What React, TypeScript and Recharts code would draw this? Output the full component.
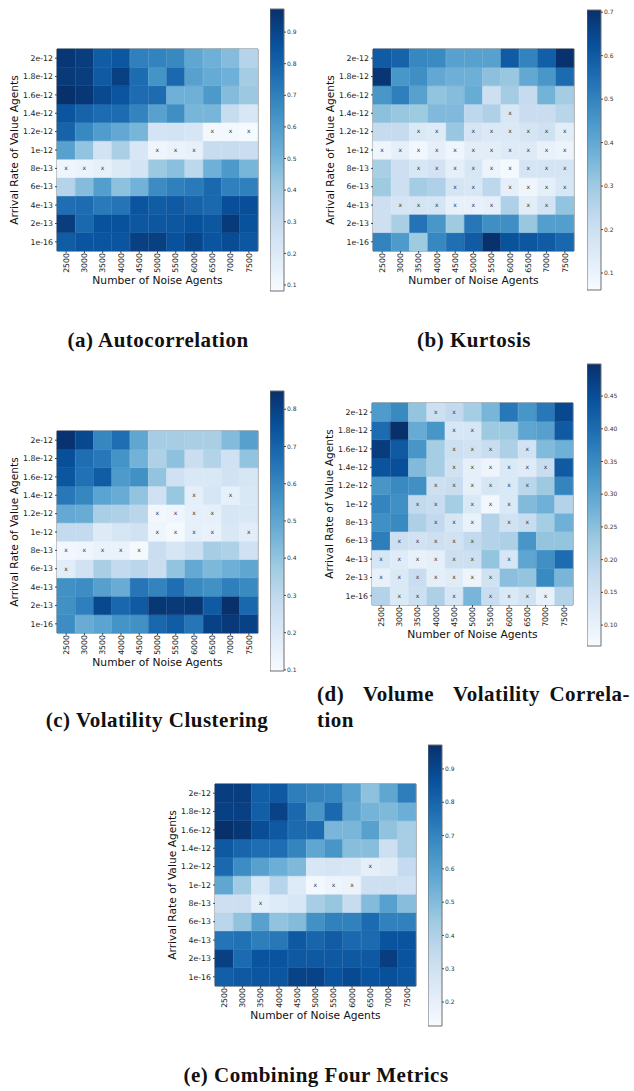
import React from 'react'
import { BarChart, Bar, XAxis, YAxis, Cell, LabelList, ReferenceArea } from 'recharts'

const noiseAgents = ['2500', '3000', '3500', '4000', '4500', '5000', '5500', '6000', '6500', '7000', '7500']
// top row first, like the picture
const arrivalRates = ['2e-12', '1.8e-12', '1.6e-12', '1.4e-12', '1.2e-12', '1e-12', '8e-13', '6e-13', '4e-13', '2e-13', '1e-16']

const autocorrelation = [
  [0.95, 0.93, 0.82, 0.84, 0.70, 0.69, 0.67, 0.56, 0.52, 0.47, 0.35],
  [0.94, 0.93, 0.83, 0.92, 0.77, 0.63, 0.78, 0.58, 0.54, 0.52, 0.40],
  [0.97, 0.95, 0.89, 0.85, 0.77, 0.77, 0.52, 0.52, 0.61, 0.47, 0.42],
  [0.85, 0.80, 0.77, 0.77, 0.69, 0.58, 0.65, 0.50, 0.50, 0.30, 0.22],
  [0.80, 0.67, 0.60, 0.55, 0.50, 0.24, 0.25, 0.23, 0.10, 0.10, 0.09],
  [0.58, 0.44, 0.25, 0.38, 0.22, 0.12, 0.14, 0.15, 0.30, 0.30, 0.28],
  [0.12, 0.14, 0.16, 0.20, 0.24, 0.42, 0.46, 0.33, 0.52, 0.61, 0.50],
  [0.35, 0.47, 0.59, 0.45, 0.51, 0.66, 0.70, 0.72, 0.78, 0.70, 0.70],
  [0.76, 0.77, 0.72, 0.74, 0.85, 0.82, 0.83, 0.80, 0.78, 0.87, 0.87],
  [0.93, 0.78, 0.86, 0.86, 0.84, 0.84, 0.84, 0.86, 0.84, 0.94, 0.86],
  [0.82, 0.85, 0.85, 0.85, 0.92, 0.92, 0.86, 0.90, 0.85, 0.88, 0.84],
]
const autocorrelationMarks = [
  '...........', '...........', '...........', '...........', '........xxx', '.....xxx...',
  'xxx........', '...........', '...........', '...........', '...........',
]

const kurtosis = [
  [0.60, 0.58, 0.49, 0.48, 0.42, 0.42, 0.42, 0.60, 0.50, 0.59, 0.70],
  [0.69, 0.45, 0.47, 0.40, 0.38, 0.38, 0.33, 0.31, 0.40, 0.45, 0.56],
  [0.45, 0.51, 0.42, 0.32, 0.34, 0.39, 0.20, 0.29, 0.22, 0.37, 0.29],
  [0.33, 0.31, 0.30, 0.35, 0.35, 0.24, 0.27, 0.16, 0.21, 0.21, 0.25],
  [0.22, 0.22, 0.15, 0.14, 0.31, 0.17, 0.15, 0.15, 0.17, 0.19, 0.13],
  [0.09, 0.12, 0.08, 0.12, 0.09, 0.13, 0.13, 0.14, 0.14, 0.11, 0.10],
  [0.28, 0.20, 0.16, 0.18, 0.12, 0.16, 0.10, 0.07, 0.17, 0.17, 0.17],
  [0.30, 0.20, 0.29, 0.27, 0.17, 0.16, 0.24, 0.12, 0.09, 0.12, 0.16],
  [0.20, 0.17, 0.17, 0.17, 0.11, 0.11, 0.12, 0.27, 0.13, 0.18, 0.32],
  [0.20, 0.28, 0.54, 0.45, 0.30, 0.53, 0.47, 0.47, 0.31, 0.43, 0.43],
  [0.50, 0.44, 0.30, 0.49, 0.55, 0.60, 0.70, 0.62, 0.61, 0.60, 0.57],
]
const kurtosisMarks = [
  '...........', '...........', '...........', '.......x...', '..xx.xxxxxx', 'xxxxxxxxxxx',
  '..xxxxxxxxx', '....xx.xxxx', '.xxxxxx.xx.', '...........', '...........',
]

const volClustering = [
  [0.84, 0.78, 0.60, 0.67, 0.50, 0.36, 0.36, 0.35, 0.35, 0.43, 0.52],
  [0.76, 0.67, 0.64, 0.56, 0.46, 0.34, 0.41, 0.27, 0.33, 0.25, 0.40],
  [0.74, 0.66, 0.72, 0.54, 0.57, 0.40, 0.25, 0.21, 0.21, 0.24, 0.22],
  [0.64, 0.60, 0.51, 0.48, 0.40, 0.25, 0.39, 0.17, 0.22, 0.16, 0.21],
  [0.49, 0.48, 0.35, 0.34, 0.31, 0.12, 0.13, 0.16, 0.16, 0.22, 0.21],
  [0.29, 0.29, 0.19, 0.22, 0.24, 0.13, 0.11, 0.16, 0.15, 0.21, 0.18],
  [0.12, 0.13, 0.15, 0.15, 0.11, 0.27, 0.22, 0.26, 0.36, 0.34, 0.25],
  [0.18, 0.24, 0.35, 0.29, 0.31, 0.27, 0.40, 0.49, 0.44, 0.47, 0.50],
  [0.57, 0.58, 0.52, 0.48, 0.65, 0.61, 0.67, 0.59, 0.57, 0.62, 0.59],
  [0.57, 0.62, 0.78, 0.69, 0.73, 0.83, 0.82, 0.83, 0.73, 0.85, 0.69],
  [0.58, 0.48, 0.51, 0.56, 0.57, 0.69, 0.72, 0.65, 0.80, 0.82, 0.80],
]
const volClusteringMarks = [
  '...........', '...........', '...........', '.......x.x.', '.....xxxx..', '.....xxxx.x',
  'xxxxx......', 'x..........', '...........', '...........', '...........',
]

const volumeVolCorr = [
  [0.32, 0.35, 0.24, 0.16, 0.18, 0.22, 0.27, 0.38, 0.33, 0.38, 0.46],
  [0.40, 0.50, 0.29, 0.33, 0.14, 0.14, 0.23, 0.23, 0.30, 0.31, 0.43],
  [0.48, 0.43, 0.33, 0.22, 0.16, 0.15, 0.17, 0.21, 0.15, 0.26, 0.28],
  [0.44, 0.45, 0.26, 0.22, 0.15, 0.11, 0.09, 0.13, 0.12, 0.17, 0.43],
  [0.33, 0.35, 0.34, 0.16, 0.17, 0.11, 0.14, 0.13, 0.19, 0.23, 0.36],
  [0.36, 0.34, 0.18, 0.17, 0.22, 0.13, 0.08, 0.13, 0.26, 0.28, 0.20],
  [0.34, 0.35, 0.21, 0.18, 0.14, 0.10, 0.20, 0.15, 0.17, 0.22, 0.28],
  [0.37, 0.16, 0.15, 0.16, 0.15, 0.18, 0.20, 0.21, 0.33, 0.24, 0.24],
  [0.14, 0.12, 0.10, 0.11, 0.16, 0.16, 0.24, 0.14, 0.30, 0.34, 0.40],
  [0.10, 0.13, 0.17, 0.11, 0.12, 0.09, 0.15, 0.25, 0.24, 0.35, 0.27],
  [0.20, 0.13, 0.16, 0.21, 0.14, 0.27, 0.17, 0.13, 0.15, 0.10, 0.20],
]
const volumeVolCorrMarks = [
  '...xx......', '....xx.....', '....xxx.x..', '....xxxxxx.', '...xxxxxx..', '..xx.xxx...',
  '...xxx.xx..', '.xxxxx.....', 'xxxxxx.x...', 'xxxxxxx....', '.xx.x.xxxx.',
]

const combined = [
  [0.93, 0.93, 0.82, 0.84, 0.72, 0.70, 0.69, 0.60, 0.48, 0.58, 0.72],
  [0.92, 0.92, 0.82, 0.91, 0.79, 0.64, 0.79, 0.58, 0.53, 0.51, 0.55],
  [0.97, 0.95, 0.88, 0.84, 0.78, 0.78, 0.52, 0.52, 0.60, 0.47, 0.42],
  [0.84, 0.80, 0.77, 0.77, 0.70, 0.58, 0.64, 0.49, 0.49, 0.31, 0.42],
  [0.79, 0.67, 0.60, 0.55, 0.51, 0.26, 0.27, 0.26, 0.21, 0.23, 0.34],
  [0.58, 0.44, 0.26, 0.38, 0.24, 0.15, 0.17, 0.18, 0.31, 0.31, 0.30],
  [0.31, 0.31, 0.21, 0.24, 0.26, 0.42, 0.46, 0.33, 0.50, 0.60, 0.49],
  [0.37, 0.47, 0.60, 0.47, 0.50, 0.66, 0.71, 0.71, 0.78, 0.71, 0.71],
  [0.75, 0.76, 0.72, 0.74, 0.84, 0.80, 0.83, 0.79, 0.78, 0.86, 0.86],
  [0.92, 0.78, 0.86, 0.86, 0.84, 0.84, 0.84, 0.84, 0.84, 0.93, 0.86],
  [0.82, 0.84, 0.85, 0.85, 0.91, 0.91, 0.86, 0.89, 0.86, 0.87, 0.85],
]
const combinedMarks = [
  '...........', '...........', '...........', '...........', '........x..', '.....xxx...',
  '..x........', '...........', '...........', '...........', '...........',
]

const ticksA = [0.1, 0.2, 0.3, 0.4, 0.5, 0.6, 0.7, 0.8, 0.9]
const ticksB = [0.1, 0.2, 0.3, 0.4, 0.5, 0.6, 0.7]
const ticksC = [0.1, 0.2, 0.3, 0.4, 0.5, 0.6, 0.7, 0.8]
const ticksD = [0.1, 0.15, 0.2, 0.25, 0.3, 0.35, 0.4, 0.45]
const ticksE = [0.2, 0.3, 0.4, 0.5, 0.6, 0.7, 0.8, 0.9]

// matplotlib "Blues"
const BLUES = ['#f7fbff', '#deebf7', '#c6dbef', '#9ecae1', '#6baed6', '#4292c6', '#2171b5', '#08519c', '#08306b']

function hexRgb(h: string) {
  const n = parseInt(h.slice(1), 16)
  return [(n >> 16) & 255, (n >> 8) & 255, n & 255]
}

function blues(t: number) {
  const c = Math.max(0, Math.min(1, t)) * 8
  const i = Math.min(7, Math.floor(c))
  const f = c - i
  const a = hexRgb(BLUES[i])
  const b = hexRgb(BLUES[i + 1])
  const m = a.map((v, k) => Math.round(v + (b[k] - v) * f))
  return `rgb(${m[0]},${m[1]},${m[2]})`
}

const Y_W = 57
const M_TOP = 2
const PLOT_W = 201
const PLOT_H = 202
const X_H = 40
const CB_PAD = 6
const FRAME = '#6f6f6f'
const sans = 'DejaVu Sans'

function XTick(props: any) {
  const { x, y, payload } = props
  return (
    <text x={x} y={y} transform={`rotate(-90 ${x} ${y})`} textAnchor="end" dy="0.35em"
      fontFamily={sans} fontSize={7.8} fill="#222">
      {payload.value}
    </text>
  )
}

interface HeatProps {
  values: number[][]
  marks: string[]
  vmin: number
  vmax: number
  left: number
  top: number
}

function Heatmap({ values, marks, vmin, vmax, left, top }: HeatProps) {
  const data = noiseAgents.map((n) => {
    const d: Record<string, any> = { name: n }
    arrivalRates.forEach((_, k) => { d[`r${k}`] = 1 })
    return d
  })
  const color = (v: number) => blues((v - vmin) / (vmax - vmin))
  const rowTicks = arrivalRates.map((_, k) => k + 0.5)

  return (
    <div style={{ position: 'absolute', left: left - Y_W, top: top - M_TOP }}>
      <BarChart width={Y_W + PLOT_W + 2} height={M_TOP + PLOT_H + X_H} data={data}
        margin={{ top: M_TOP, right: 2, bottom: 0, left: 0 }} barCategoryGap={0} barGap={0}>
        <XAxis dataKey="name" height={X_H} interval={0} tick={<XTick />} tickSize={2} tickMargin={0}
          axisLine={false} tickLine={{ stroke: '#444' }}
          label={{ value: 'Number of Noise Agents', position: 'insideBottom', offset: 7, fontSize: 10.7, fontFamily: sans, fill: '#111' }} />
        <YAxis type="number" domain={[0, 11]} ticks={rowTicks} interval={0} width={Y_W}
          tickFormatter={(v: number) => arrivalRates[10 - Math.floor(v)]}
          tick={{ fontSize: 7.8, fontFamily: sans, fill: '#222' }} tickSize={2} tickMargin={2}
          axisLine={false} tickLine={{ stroke: '#444' }}
          label={{ value: 'Arrival Rate of Value Agents', angle: -90, position: 'insideLeft', offset: 14,
            fontSize: 10.7, fontFamily: sans, fill: '#111', style: { textAnchor: 'middle' } }} />
        {arrivalRates.map((_, k) => {
          const row = 10 - k
          return (
            <Bar key={k} dataKey={`r${k}`} stackId="s" isAnimationActive={false}>
              {noiseAgents.map((n, ci) => (
                <Cell key={n} fill={color(values[row][ci])} stroke={color(values[row][ci])} strokeWidth={0.5} />
              ))}
              <LabelList content={(p: any) =>
                marks[row][p.index] === 'x' ? (
                  <text x={p.x + p.width / 2} y={p.y + p.height / 2} textAnchor="middle" dy="0.3em"
                    fontFamily={sans} fontSize={6} fill="#333" stroke="none">x</text>
                ) : null
              } />
            </Bar>
          )
        })}
        <ReferenceArea y1={0} y2={11} fill="none" stroke={FRAME} strokeWidth={1} ifOverflow="visible" />
      </BarChart>
    </div>
  )
}

interface BarProps {
  id: string
  vmin: number
  vmax: number
  ticks: number[]
  digits: number
  left: number
  top: number
  height: number
}

function Colorbar({ id, vmin, vmax, ticks, digits, left, top, height }: BarProps) {
  return (
    <div style={{ position: 'absolute', left, top: top - CB_PAD }}>
      <BarChart width={14 + 30} height={height + 2 * CB_PAD} data={[{ name: 'cb', range: [vmin, vmax] }]}
        margin={{ top: CB_PAD, right: 0, bottom: CB_PAD, left: 0 }} barCategoryGap={0}>
        <defs>
          <linearGradient id={id} x1="0" y1="1" x2="0" y2="0">
            {BLUES.map((c, i) => <stop key={c} offset={i / 8} stopColor={c} />)}
          </linearGradient>
        </defs>
        <XAxis dataKey="name" hide />
        <YAxis orientation="right" type="number" domain={[vmin, vmax]} ticks={ticks} interval={0} width={30}
          tickSize={2} tickMargin={1} axisLine={false} tickLine={{ stroke: '#444' }}
          tick={{ fontSize: 6, fontFamily: sans, fill: '#333' }}
          tickFormatter={(v: number) => v.toFixed(digits)} />
        <Bar dataKey="range" fill={`url(#${id})`} stroke={FRAME} isAnimationActive={false} />
      </BarChart>
    </div>
  )
}

const capFont = { fontFamily: 'Liberation Serif', fontWeight: 700, fontSize: 21, fill: '#111', letterSpacing: 0.5 }

export default function App() {
  return (
    <div style={{ position: 'absolute', left: 0, top: 0, width: 634, height: 1091, background: '#fff' }}>
      <Heatmap values={autocorrelation} marks={autocorrelationMarks} vmin={0.081} vmax={0.973} left={57} top={49} />
      <Colorbar id="cbA" vmin={0.081} vmax={0.973} ticks={ticksA} digits={1} left={270} top={9} height={282} />

      <Heatmap values={kurtosis} marks={kurtosisMarks} vmin={0.061} vmax={0.705} left={373} top={49} />
      <Colorbar id="cbB" vmin={0.061} vmax={0.705} ticks={ticksB} digits={1} left={587} top={10} height={280} />

      <Heatmap values={volClustering} marks={volClusteringMarks} vmin={0.097} vmax={0.849} left={57} top={431} />
      <Colorbar id="cbC" vmin={0.097} vmax={0.849} ticks={ticksC} digits={1} left={270} top={391} height={280} />

      <Heatmap values={volumeVolCorr} marks={volumeVolCorrMarks} vmin={0.068} vmax={0.499} left={372} top={403} />
      <Colorbar id="cbD" vmin={0.068} vmax={0.499} ticks={ticksD} digits={2} left={587} top={364} height={282} />

      <Heatmap values={combined} marks={combinedMarks} vmin={0.128} vmax={0.972} left={215} top={784} />
      <Colorbar id="cbE" vmin={0.128} vmax={0.972} ticks={ticksE} digits={1} left={428} top={745} height={281} />

      <svg width={634} height={1091} style={{ position: 'absolute', left: 0, top: 0, pointerEvents: 'none' }}>
        <text x={158} y={347} textAnchor="middle" {...capFont}>(a) Autocorrelation</text>
        <text x={474} y={347} textAnchor="middle" {...capFont}>(b) Kurtosis</text>
        <text x={157} y={727} textAnchor="middle" {...capFont}>(c) Volatility Clustering</text>
        <text x={317} y={701} {...capFont}>(d)</text>
        <text x={363} y={701} {...capFont}>Volume</text>
        <text x={453} y={701} {...capFont}>Volatility</text>
        <text x={630} y={701} textAnchor="end" {...capFont}>Correla-</text>
        <text x={317} y={727} {...capFont}>tion</text>
        <text x={316} y={1082} textAnchor="middle" {...capFont}>(e) Combining Four Metrics</text>
      </svg>
    </div>
  )
}
